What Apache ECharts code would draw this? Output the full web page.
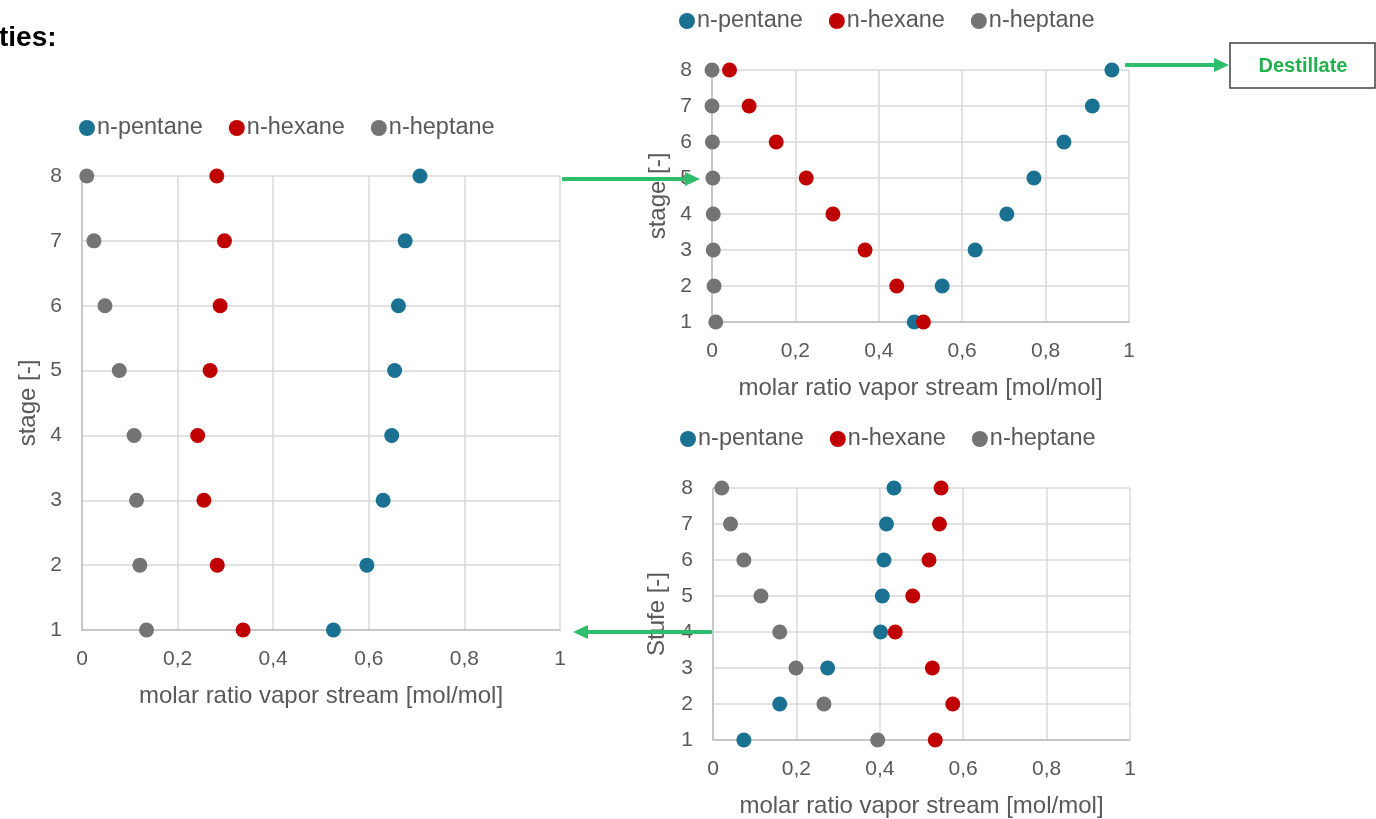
<!DOCTYPE html>
<html>
<head>
<meta charset="utf-8">
<script src="https://cdn.jsdelivr.net/npm/echarts@6/dist/echarts.min.js"></script>
<style>
  html, body { margin: 0; padding: 0; background: #fff; }
  #chart { width: 1376px; height: 819px; }
</style>
</head>
<body>
<div id="chart"></div>
<script>
// stages (y values)
var stages = [1, 2, 3, 4, 5, 6, 7, 8];
var xTicks = [0, 0.2, 0.4, 0.6, 0.8, 1];

// left chart: vapor stream
var leftPentane = [0.526, 0.596, 0.630, 0.648, 0.654, 0.662, 0.676, 0.707];
var leftHexane  = [0.337, 0.283, 0.255, 0.242, 0.268, 0.289, 0.298, 0.282];
var leftHeptane = [0.135, 0.121, 0.114, 0.109, 0.078, 0.048, 0.025, 0.010];

// top right chart
var topPentane = [0.485, 0.552, 0.631, 0.707, 0.772, 0.844, 0.912, 0.959];
var topHexane  = [0.507, 0.443, 0.367, 0.290, 0.226, 0.154, 0.089, 0.042];
var topHeptane = [0.009, 0.005, 0.003, 0.003, 0.002, 0.001, 0.000, 0.000];

// bottom right chart
var botPentane = [0.074, 0.160, 0.275, 0.402, 0.406, 0.410, 0.416, 0.434];
var botHexane  = [0.533, 0.575, 0.526, 0.437, 0.479, 0.518, 0.543, 0.547];
var botHeptane = [0.395, 0.266, 0.199, 0.160, 0.115, 0.074, 0.042, 0.021];

var names = ['n-pentane', 'n-hexane', 'n-heptane'];
var colors = ['#1a7191', '#c00000', '#747474'];
var textColor = '#595959';
var font = 'Liberation Sans, Arial, sans-serif';

function pairs(xs) {
  return xs.map(function (v, i) { return [v, stages[i]]; });
}

var grids = [
  { left: 82, top: 176, width: 478, height: 454 },
  { left: 712, top: 70, width: 417, height: 252 },
  { left: 713, top: 488, width: 417, height: 252 }
];
var yNames = ['stage [-]', 'stage [-]', 'Stufe [-]'];
var yNameGap = [42, 42, 44];
var legendPos = [
  { left: 79, top: 116 },
  { left: 679, top: 9 },
  { left: 680, top: 427 }
];
var dataSets = [
  [leftPentane, leftHexane, leftHeptane],
  [topPentane, topHexane, topHeptane],
  [botPentane, botHexane, botHeptane]
];

var xAxes = [], yAxes = [], series = [], legends = [];
grids.forEach(function (g, gi) {
  xAxes.push({
    gridIndex: gi, type: 'value', min: 0, max: 1, interval: 0.2,
    name: 'molar ratio vapor stream [mol/mol]', nameLocation: 'middle', nameGap: 54,
    nameTextStyle: { color: textColor, fontSize: 24, fontFamily: font },
    axisLine: { show: true, lineStyle: { color: '#bfbfbf', width: 1.5 } },
    axisTick: { show: false },
    splitLine: { show: true, lineStyle: { color: '#d9d9d9', width: 1.5 } },
    axisLabel: {
      color: textColor, fontSize: 21, fontFamily: font, margin: 19,
      formatter: function (v) { return String(v).replace('.', ','); }
    }
  });
  yAxes.push({
    gridIndex: gi, type: 'value', min: 1, max: 8, interval: 1,
    name: yNames[gi], nameLocation: 'middle', nameGap: yNameGap[gi],
    nameTextStyle: { color: textColor, fontSize: 24, fontFamily: font },
    axisLine: { show: true, lineStyle: { color: '#bfbfbf', width: 1.5 } },
    axisTick: { show: false },
    splitLine: { show: true, lineStyle: { color: '#d9d9d9', width: 1.5 } },
    axisLabel: { color: textColor, fontSize: 21, fontFamily: font, margin: 20 }
  });
  dataSets[gi].forEach(function (arr, si) {
    series.push({
      type: 'scatter', name: names[si], xAxisIndex: gi, yAxisIndex: gi,
      symbolSize: 15, itemStyle: { color: colors[si], opacity: 1 },
      data: pairs(arr)
    });
  });
  legends.push({
    left: legendPos[gi].left, top: legendPos[gi].top, padding: 0,
    data: names, icon: 'circle', itemWidth: 16, itemHeight: 16, itemGap: 26,
    textStyle: { color: textColor, fontSize: 23.5, fontFamily: font, padding: [0, 0, 0, -3] }
  });
});

// arrows and the Destillate box are drawn on top
var green = '#2ebd6b';
function arrow(x1, x2, y) {
  var dir = x2 > x1 ? 1 : -1;
  var hx = x2 - dir * 15;
  return [
    { type: 'line', z: 100, shape: { x1: x1, y1: y, x2: hx, y2: y }, style: { stroke: green, lineWidth: 4 } },
    { type: 'polygon', z: 100, shape: { points: [[hx, y - 7], [x2, y], [hx, y + 7]] }, style: { fill: green } }
  ];
}

var graphics = []
  .concat(arrow(562, 700, 179))
  .concat(arrow(712, 573, 632))
  .concat(arrow(1125, 1229, 65))
  .concat([
    { type: 'rect', z: 100, shape: { x: 1230, y: 43, width: 145, height: 45 },
      style: { fill: '#fff', stroke: '#404040', lineWidth: 1.5 } },
    { type: 'text', z: 101, x: 1303, y: 66,
      style: { text: 'Destillate', fill: '#22b14c', font: 'bold 20px ' + font, textAlign: 'center', textVerticalAlign: 'middle' } },
    { type: 'text', z: 101, x: -1, y: 38,
      style: { text: 'ties:', fill: '#000', font: 'bold 28px ' + font, textAlign: 'left', textVerticalAlign: 'middle' } }
  ]);

var chart = echarts.init(document.getElementById('chart'));
chart.setOption({
  animation: false,
  textStyle: { fontFamily: font },
  grid: grids,
  xAxis: xAxes,
  yAxis: yAxes,
  legend: legends,
  series: series,
  graphic: graphics
});
</script>
</body>
</html>
